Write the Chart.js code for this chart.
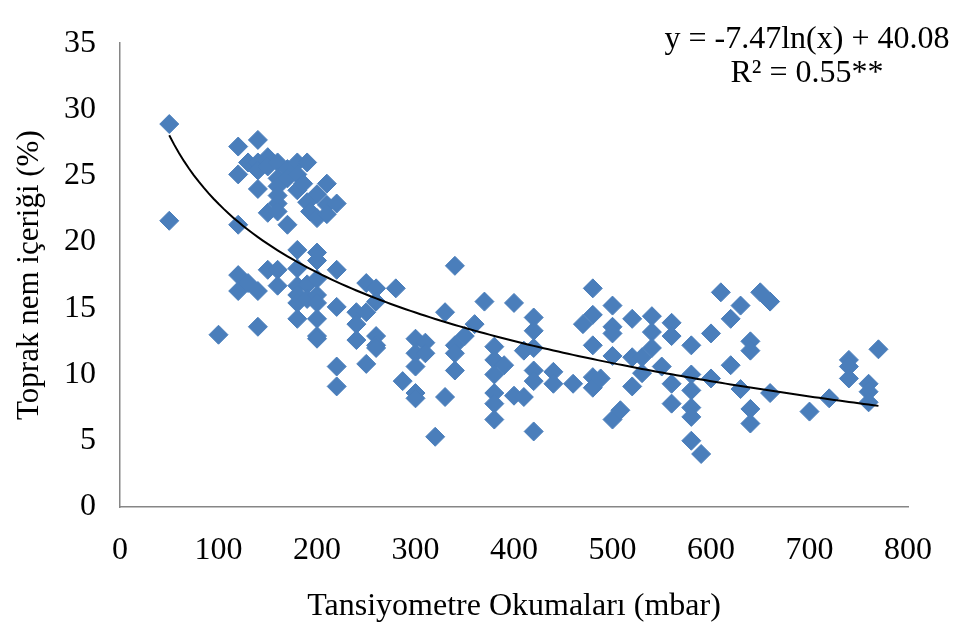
<!DOCTYPE html>
<html>
<head>
<meta charset="utf-8">
<script src="https://cdn.jsdelivr.net/npm/chart.js@4/dist/chart.umd.min.js"></script>
<style>
  html, body { margin: 0; padding: 0; background: #ffffff; }
  #wrap { width: 957px; height: 634px; }
</style>
</head>
<body>
<div id="wrap"><canvas id="c" width="957" height="634"></canvas></div>
<script>
// Tension readings (mbar)
const tensionX = [
  50, 50, 100,
  120, 120, 120, 120, 120,
  130, 130,
  140, 140, 140, 140, 140, 140,
  150, 150, 150, 150,
  160, 160, 160, 160, 160, 160, 160, 160,
  170, 170, 170,
  180, 180, 180, 180, 180, 180, 180, 180, 180,
  186,
  190, 190, 190, 190,
  193,
  200, 200, 200, 200, 200, 200, 200, 200, 200, 200,
  210, 210, 210,
  220, 220, 220, 220, 220,
  240, 240, 240,
  250, 250, 250,
  260, 260, 260, 260, 260,
  280, 287,
  300, 300, 300, 300, 300,
  310, 310,
  320,
  330, 330,
  340, 340, 340, 340,
  350, 360, 370,
  380, 380, 380, 380, 380, 380,
  390,
  400, 400,
  410, 410,
  420, 420, 420, 420, 420, 420,
  440, 440,
  460, 470,
  480, 480, 480, 480, 480,
  488,
  500, 500, 500, 500, 500,
  508,
  520, 520, 520,
  530, 530,
  540, 540, 540,
  550,
  560, 560, 560, 560,
  580, 580, 580, 580, 580, 580,
  590,
  600, 600,
  610,
  620, 620,
  630, 630,
  640, 640, 640, 640,
  650,
  660, 660,
  700, 720,
  740, 740, 740,
  760, 760, 760,
  770
];
// Soil moisture content (%)
const moistureY = [
  28.9, 21.6, 13.0,
  27.2, 25.1, 21.3, 17.5, 16.3,
  26.0, 16.9,
  27.7, 26.0, 25.4, 24.0, 16.3, 13.6,
  26.4, 25.7, 22.2, 17.9,
  26.0, 24.8, 24.2, 23.5, 22.9, 22.3, 17.9, 16.7,
  25.5, 24.8, 21.3,
  26.0, 25.1, 23.9, 19.4, 18.0, 16.7, 16.0, 15.4, 14.2,
  24.4,
  26.0, 23.0, 16.8, 15.7,
  22.3,
  23.6, 21.8, 19.2, 18.6, 17.2, 16.0, 15.4, 14.2, 12.9, 12.7,
  24.4, 22.8, 22.1,
  22.9, 17.9, 15.1, 10.6, 9.1,
  14.7, 13.8, 12.6,
  16.9, 14.7, 10.8,
  16.5, 15.5, 12.9, 12.2, 12.0,
  16.5, 9.5,
  12.7, 11.6, 10.6, 8.6, 8.2,
  12.4, 11.6,
  5.3,
  14.7, 8.3,
  18.2, 12.2, 11.6, 10.3,
  12.9, 13.8, 15.5,
  12.1, 11.1, 10.0, 8.6, 7.8, 6.6,
  10.7,
  15.4, 8.4,
  11.8, 8.3,
  14.3, 13.3, 12.0, 10.3, 9.5, 5.7,
  10.2, 9.3,
  9.3, 13.8,
  16.5, 14.5, 12.2, 9.8, 9.0,
  9.7,
  15.2, 13.6, 13.1, 11.4, 6.6,
  7.3,
  14.2, 11.3, 9.1,
  11.3, 10.1,
  14.4, 13.2, 12.0,
  10.6,
  13.9, 12.9, 9.3, 7.8,
  12.2, 10.0, 8.8, 7.5, 6.8, 5.0,
  4.0,
  13.1, 9.7,
  16.2,
  14.2, 10.7,
  15.2, 8.9,
  12.5, 11.8, 7.4, 6.3,
  16.2,
  15.5, 8.6,
  7.2, 8.2,
  11.1, 10.6, 9.7,
  9.3, 8.7, 7.9,
  11.9
];
// Logarithmic trendline as printed: y = a ln(x) + b, with x in kPa (mbar / 10)
const trendCoef = [-7.47, 40.08];
const trendUnitDivisor = [10];
const trendRangeX = [50, 770];
const xTicks = [0, 100, 200, 300, 400, 500, 600, 700, 800];
const yTicks = [0, 5, 10, 15, 20, 25, 30, 35];
const equationLines = ['y = -7.47ln(x) + 40.08', 'R\u00B2 = 0.55**'];
const xTitle = 'Tansiyometre Okumaları (mbar)';
const yTitle = 'Toprak nem içeriği (%)';

const scatterData = tensionX.map((x, i) => ({ x: x, y: moistureY[i] }));
const trendData = [];
for (let x = trendRangeX[0]; x <= trendRangeX[1]; x += 5) {
  trendData.push({ x: x, y: trendCoef[0] * Math.log(x / trendUnitDivisor[0]) + trendCoef[1] });
}

const FONT = "'Liberation Serif', 'Times New Roman', serif";

const equationPlugin = {
  id: 'equation',
  afterDraw(chart) {
    const ctx = chart.ctx;
    ctx.save();
    ctx.font = '32px ' + FONT;
    ctx.fillStyle = '#000000';
    ctx.textAlign = 'center';
    ctx.textBaseline = 'middle';
    ctx.fillText(equationLines[0], 807, 40);
    ctx.fillText(equationLines[1], 807, 74);
    ctx.restore();
  }
};

new Chart(document.getElementById('c'), {
  type: 'scatter',
  data: {
    datasets: [
      {
        label: 'data',
        data: scatterData,
        pointStyle: 'rectRot',
        pointRadius: 9.5,
        pointHoverRadius: 9.5,
        backgroundColor: '#4A7EBB',
        borderColor: '#4A7EBB',
        borderWidth: 1,
        order: 2
      },
      {
        label: 'trend',
        type: 'line',
        data: trendData,
        borderColor: '#000000',
        borderWidth: 2,
        pointRadius: 0,
        fill: false,
        tension: 0,
        order: 1
      }
    ]
  },
  options: {
    responsive: false,
    animation: false,
    devicePixelRatio: 1,
    layout: { padding: { left: 0, right: 49, top: 20, bottom: 0 } },
    plugins: {
      legend: { display: false },
      tooltip: { enabled: false }
    },
    scales: {
      x: {
        type: 'linear',
        min: 0,
        max: 800,
        afterBuildTicks: (s) => { s.ticks = xTicks.map(v => ({ value: v })); },
        afterFit: (s) => { s.height = 127; },
        grid: { display: false, drawTicks: false },
        border: { display: true, color: '#868686', width: 1.5 },
        ticks: {
          padding: 24,
          color: '#000000',
          font: { family: FONT, size: 32 },
          maxRotation: 0
        },
        title: {
          display: true,
          text: xTitle,
          color: '#000000',
          font: { family: FONT, size: 32 },
          padding: { top: 0, bottom: 8 }
        }
      },
      y: {
        type: 'linear',
        min: 0,
        max: 35,
        afterBuildTicks: (s) => { s.ticks = yTicks.map(v => ({ value: v })); },
        afterFit: (s) => { s.width = 120; },
        grid: { display: false, drawTicks: false },
        border: { display: true, color: '#868686', width: 1.5 },
        ticks: {
          padding: 24,
          color: '#000000',
          font: { family: FONT, size: 32 }
        },
        title: {
          display: true,
          text: yTitle,
          color: '#000000',
          font: { family: FONT, size: 31 },
          padding: { top: 11, bottom: 0 }
        }
      }
    }
  },
  plugins: [equationPlugin]
});
</script>
</body>
</html>
